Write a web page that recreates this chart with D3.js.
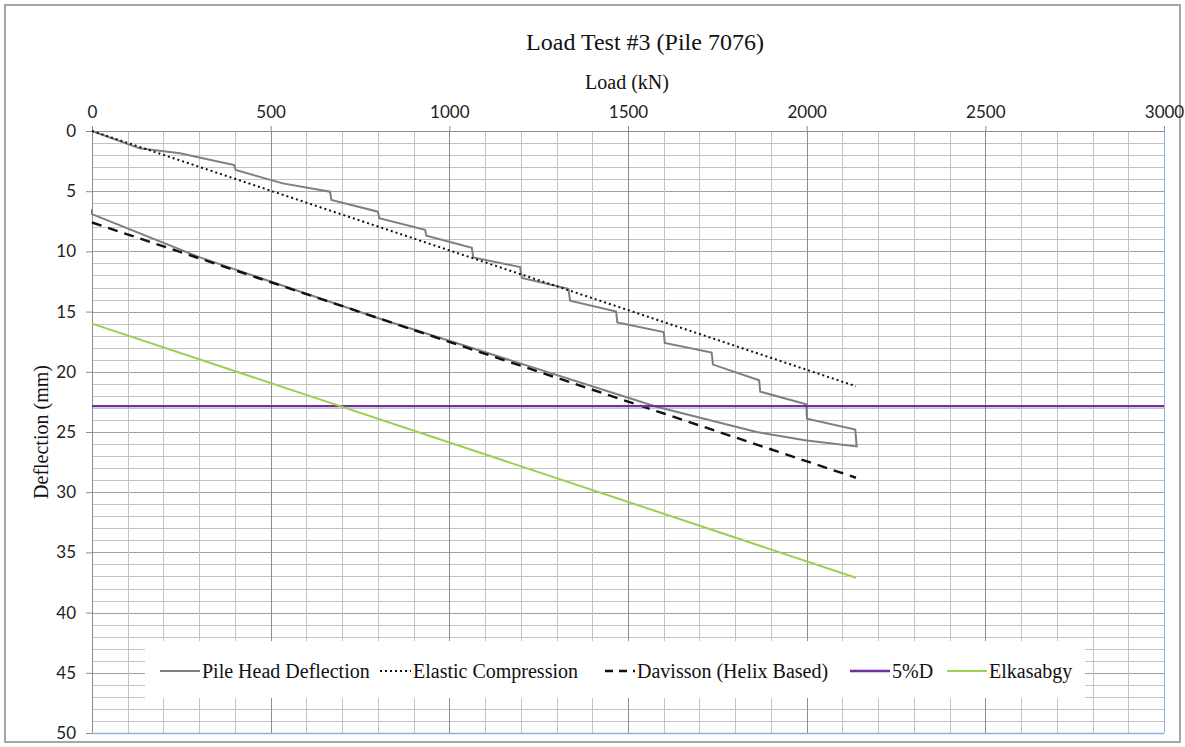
<!DOCTYPE html>
<html>
<head>
<meta charset="utf-8">
<script src="https://cdn.jsdelivr.net/npm/d3@7"></script>
<style>
  body { margin: 0; background: #fff; }
  .tick-label { font-family: "Lato", "Liberation Sans", sans-serif; font-size: 17px; fill: #222; }
  .chart-text { font-family: "Liberation Serif", "DejaVu Serif", serif; fill: #111; }
</style>
</head>
<body>
<div id="chart"></div>
<script>
// Pile head deflection, loading in holds then unloading
const pileLoad = [0, 133, 246, 398, 402, 534, 666, 670, 800, 804, 932, 936, 1063, 1067, 1198, 1203, 1333, 1338, 1467, 1470, 1600, 1603, 1734, 1738, 1867, 1870, 1999, 2001, 2136, 2140, 2000, 1860, 1580, 806, 302, 0, 0]
const pileDefl = [0, 1.44, 1.85, 2.83, 3.24, 4.35, 5.04, 5.73, 6.7, 7.25, 8.2, 8.7, 9.7, 10.5, 11.3, 12.2, 13.1, 14.1, 15.0, 15.9, 16.7, 17.6, 18.4, 19.4, 20.7, 21.65, 22.7, 23.9, 24.8, 26.2, 25.7, 25.0, 22.9, 15.6, 10.5, 6.9, 6.5]

const elasticLoad = [0, 2138]
const elasticDefl = [0, 21.2]

const davissonLoad = [0, 2138]
const davissonDefl = [7.6, 28.8]

const fivePctLoad = [0, 3000]
const fivePctDefl = [22.85, 22.85]

const elkasabgyLoad = [0, 2138]
const elkasabgyDefl = [16.0, 37.1]

const loadTicks = [0, 500, 1000, 1500, 2000, 2500, 3000]
const deflTicks = [0, 5, 10, 15, 20, 25, 30, 35, 40, 45, 50]

const toPoints = (xs, ys) => xs.map((x, i) => ({ x, y: ys[i] }))

const series = [
  { name: "Pile Head Deflection", points: toPoints(pileLoad, pileDefl), color: "#7f7f7f", width: 2, dash: null },
  { name: "Elastic Compression", points: toPoints(elasticLoad, elasticDefl), color: "#111", width: 2, dash: "2,3" },
  { name: "Davisson (Helix Based)", points: toPoints(davissonLoad, davissonDefl), color: "#111", width: 2.4, dash: "10,7" },
  { name: "5%D", points: toPoints(fivePctLoad, fivePctDefl), color: "#7030a0", width: 2.4, dash: null },
  { name: "Elkasabgy", points: toPoints(elkasabgyLoad, elkasabgyDefl), color: "#9bd14f", width: 2, dash: null },
]

class LoadTestChart {
  constructor(wrapper) {
    this.wrapper = d3.select(wrapper)
    this.dimensions = {
      width: 1185,
      height: 747,
      margin: { top: 131, right: 21, bottom: 14, left: 92 },
    }
    this.dimensions.boundedWidth = this.dimensions.width
      - this.dimensions.margin.left - this.dimensions.margin.right
    this.dimensions.boundedHeight = this.dimensions.height
      - this.dimensions.margin.top - this.dimensions.margin.bottom
    this.dv = {}
  }

  create() {
    this.setScales()
    this.initialise()
    this.drawGrid()
    this.drawAxes()
    this.drawSeries()
    this.drawLegend()
  }

  setScales() {
    this.dv.x = d3.scaleLinear().domain([0, 3000]).range([0, this.dimensions.boundedWidth])
    this.dv.y = d3.scaleLinear().domain([0, 50]).range([0, this.dimensions.boundedHeight])
  }

  initialise() {
    const dims = this.dimensions
    const svg = this.wrapper.append("svg")
      .attr("width", dims.width)
      .attr("height", dims.height)
    this.dv.svg = svg

    // outer frame
    svg.append("rect")
      .attr("x", 5).attr("y", 5)
      .attr("width", dims.width - 10).attr("height", dims.height - 10)
      .attr("fill", "#fff")
      .attr("stroke", "#a6a6a6")
      .attr("stroke-width", 2)

    svg.append("text")
      .attr("class", "chart-text")
      .attr("x", 645).attr("y", 50)
      .attr("text-anchor", "middle")
      .style("font-size", "24px")
      .text("Load Test #3 (Pile 7076)")

    svg.append("text")
      .attr("class", "chart-text")
      .attr("x", 627).attr("y", 89)
      .attr("text-anchor", "middle")
      .style("font-size", "20px")
      .text("Load (kN)")

    svg.append("text")
      .attr("class", "chart-text")
      .attr("transform", `translate(48, ${dims.margin.top + dims.boundedHeight / 2}) rotate(-90)`)
      .attr("text-anchor", "middle")
      .style("font-size", "20px")
      .text("Deflection (mm)")

    this.dv.bounds = svg.append("g")
      .attr("transform", `translate(${dims.margin.left}, ${dims.margin.top})`)
  }

  drawGrid() {
    const { x, y, bounds } = this.dv
    const w = this.dimensions.boundedWidth
    const h = this.dimensions.boundedHeight
    const grid = bounds.append("g").attr("class", "grid")

    grid.selectAll(".hgrid")
      .data(d3.range(1, 50))
      .enter().append("line")
      .attr("x1", 0).attr("x2", w)
      .attr("y1", d => Math.round(y(d)) + 0.5)
      .attr("y2", d => Math.round(y(d)) + 0.5)
      .attr("stroke", d => d % 5 === 0 ? "#a0a0a0" : "#c4c4c4")

    grid.selectAll(".vgrid")
      .data(d3.range(100, 3000, 100))
      .enter().append("line")
      .attr("y1", 0).attr("y2", h)
      .attr("x1", d => Math.round(x(d)) + 0.5)
      .attr("x2", d => Math.round(x(d)) + 0.5)
      .attr("stroke", d => d % 500 === 0 ? "#8c8c8c" : "#c4c4c4")
  }

  drawAxes() {
    const { x, y, bounds } = this.dv
    const w = this.dimensions.boundedWidth
    const h = this.dimensions.boundedHeight

    const top = bounds.append("g")
      .call(d3.axisTop(x).tickValues(loadTicks).tickFormat(d3.format("d")).tickSize(5).tickPadding(8))
    top.select(".domain").attr("stroke", "#8c8c8c")
    top.selectAll(".tick line").attr("stroke", "#8c8c8c")
    top.selectAll(".tick text").attr("class", "tick-label").attr("fill", null)

    const left = bounds.append("g")
      .call(d3.axisLeft(y).tickValues(deflTicks).tickFormat(d3.format("d")).tickSize(6).tickPadding(10))
    left.select(".domain").attr("stroke", "#8c8c8c")
    left.selectAll(".tick line").attr("stroke", "#8c8c8c")
    left.selectAll(".tick text").attr("class", "tick-label").attr("fill", null)

    // right and bottom edges of the plot area
    bounds.append("line")
      .attr("x1", w + 0.5).attr("x2", w + 0.5).attr("y1", 0).attr("y2", h)
      .attr("stroke", "#8fb0de")
    bounds.append("line")
      .attr("x1", 0).attr("x2", w).attr("y1", h + 0.5).attr("y2", h + 0.5)
      .attr("stroke", "#8fb0de").attr("stroke-width", 1.5)
  }

  drawSeries() {
    const { x, y, bounds } = this.dv
    const line = d3.line().x(d => x(d.x)).y(d => y(d.y))

    bounds.selectAll(".series")
      .data(series)
      .enter().append("path")
      .attr("class", "series")
      .attr("d", d => line(d.points))
      .attr("fill", "none")
      .attr("stroke", d => d.color)
      .attr("stroke-width", d => d.width)
      .attr("stroke-dasharray", d => d.dash)
      .attr("stroke-linejoin", "miter")
  }

  drawLegend() {
    const svg = this.dv.svg
    const legend = svg.append("g")

    legend.append("rect")
      .attr("x", 145).attr("y", 641)
      .attr("width", 940).attr("height", 57)
      .attr("fill", "#fff")

    // sample x positions for each entry
    const sampleX = [160, 380, 605, 850, 947]
    const sampleW = [40, 31, 30, 40, 40]
    const rowY = 671

    const items = legend.selectAll(".legend-item")
      .data(series)
      .enter().append("g")
      .attr("class", "legend-item")
      .attr("transform", (d, i) => `translate(${sampleX[i]}, ${rowY})`)

    items.append("line")
      .attr("x1", 0).attr("x2", (d, i) => sampleW[i])
      .attr("y1", 0).attr("y2", 0)
      .attr("stroke", d => d.color)
      .attr("stroke-width", d => d.width)
      .attr("stroke-dasharray", (d, i) => i === 2 ? "8,6" : d.dash)

    items.append("text")
      .attr("class", "chart-text")
      .attr("x", (d, i) => sampleW[i] + 2)
      .attr("y", 7)
      .style("font-size", "20px")
      .text(d => d.name)
  }
}

new LoadTestChart("#chart").create()
</script>
</body>
</html>
